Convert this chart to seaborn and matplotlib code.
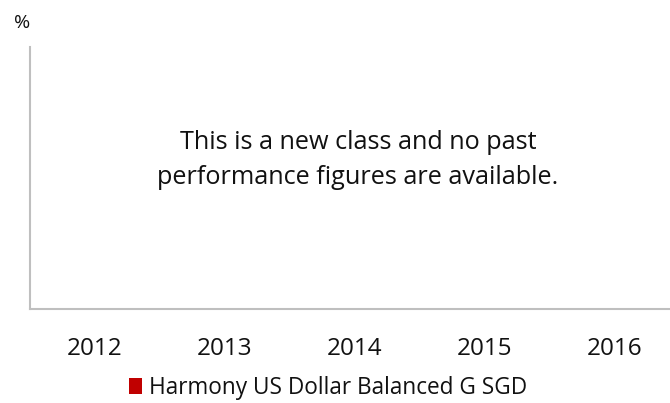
import numpy as np
import pandas as pd
import matplotlib
matplotlib.use("Agg")
import matplotlib.pyplot as plt
from matplotlib.patches import Patch
import seaborn as sns

years = ["2012", "2013", "2014", "2015", "2016"]
returns = [np.nan, np.nan, np.nan, np.nan, np.nan]
series_name = "Harmony US Dollar Balanced G SGD"
message = "This is a new class and no past\nperformance figures are available."
y_label = "%"

sns.set_theme(style="white")
plt.rcParams["font.family"] = ["Open Sans", "DejaVu Sans"]

df = pd.DataFrame({"year": years, "ret": returns})

fig = plt.figure(figsize=(6.70, 4.03), dpi=100)
ax = fig.add_axes([30 / 670, 1 - 309 / 403, 650 / 670, (309 - 47) / 403])
sns.barplot(data=df, x="year", y="ret", color="#c00000", ax=ax, order=years)
ax.set_xlim(-0.5, 4.5)
ax.set_ylim(0, 1)
ax.set_xlabel("")
ax.set_ylabel("")
ax.set_yticks([])
ax.tick_params(axis="x", length=0, pad=20, labelsize=17.5, colors="#111111")
for s in ["top", "right"]:
    ax.spines[s].set_visible(False)
for s in ["left", "bottom"]:
    ax.spines[s].set_color("#bfbfbf")
    ax.spines[s].set_linewidth(1.5)

fig.text(358 / 670, 1 - 160 / 403, message, ha="center", va="center",
         fontsize=18.2, color="#111111", linespacing=1.5)
fig.text(22 / 670, 1 - 23 / 403, y_label, ha="center", va="center",
         fontsize=14, color="#111111")

handles = [Patch(facecolor="#c00000", edgecolor="none", label=series_name)]
fig.legend(handles=handles, loc="center", bbox_to_anchor=(328 / 670, 1 - 388 / 403),
           frameon=False, fontsize=16.3, handlelength=0.55, handleheight=0.7,
           handletextpad=0.3, labelcolor="#111111", borderpad=0)

fig.savefig("out.png", dpi=100)
